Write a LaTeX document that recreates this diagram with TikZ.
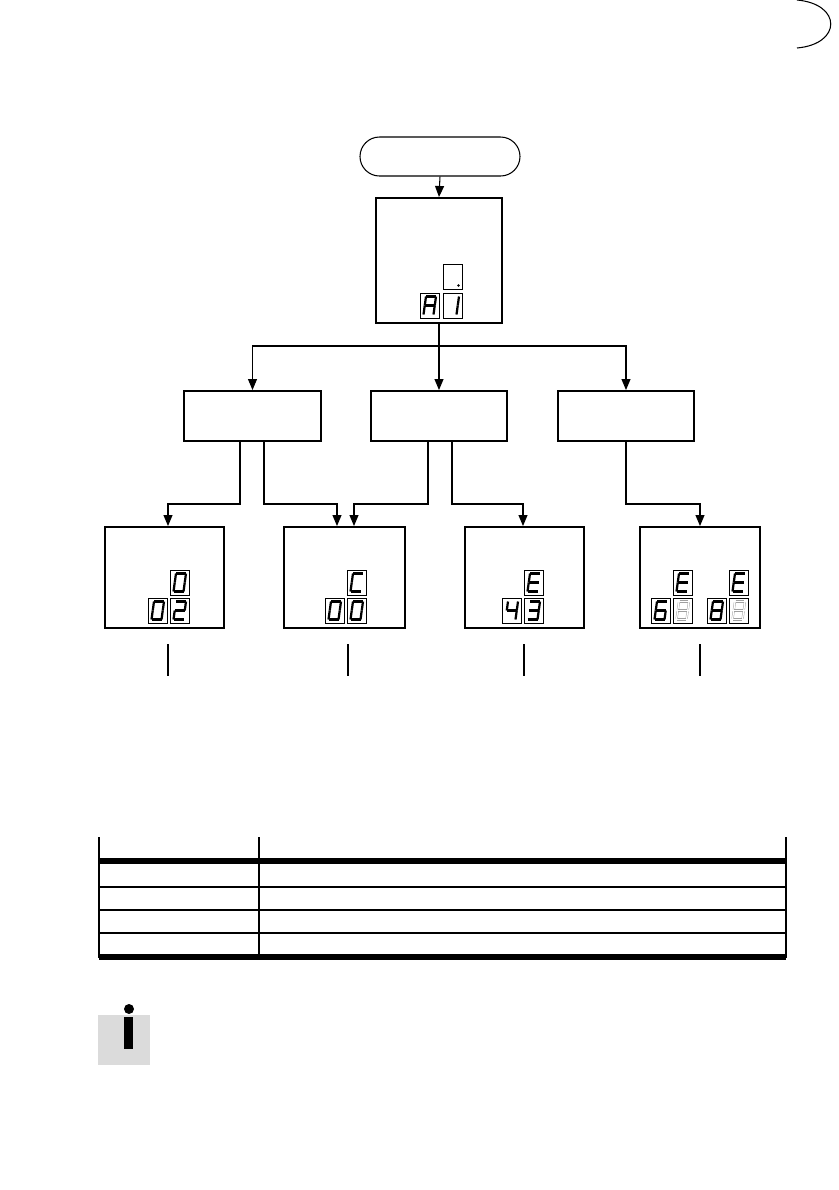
\documentclass[tikz,border=0pt]{standalone}
\usetikzlibrary{arrows.meta,shapes.misc,calc}
\def\u{0.03cm}
\tikzset{
  box/.style={draw, line width=1.7pt, rectangle, inner sep=0pt},
  pill/.style={draw, line width=0.9pt, rounded rectangle, inner sep=0pt},
  conn/.style={line width=0.9pt},
  arr/.style={conn, -{Triangle[length=0.33cm,width=0.27cm]}},
  cell/.style={draw, line width=0.8pt},
  litseg/.style={line width=1.9pt, line cap=butt},
  dimseg/.style={draw=gray!75, line width=0.35pt, double=white, double distance=1.1pt, shorten >=0.6pt, shorten <=0.6pt},
  rule/.style={line width=0.9pt},
  thickrule/.style={line width=0.17cm},
}
% segment lists
\def\dzero{TL/TR,TR/MR,MR/BR,BL/BR,ML/BL,TL/ML}
\def\done{TR/MR,MR/BR}
\def\dtwo{TL/TR,TR/MR,ML/MR,ML/BL,BL/BR}
\def\dthree{TL/TR,TR/MR,ML/MR,MR/BR,BL/BR}
\def\dfour{TL/ML,ML/MR,TR/MR,MR/BR}
\def\dsix{TL/TR,TL/ML,ML/MR,ML/BL,BL/BR,MR/BR}
\def\deight{TL/TR,TR/MR,MR/BR,BL/BR,ML/BL,TL/ML,ML/MR}
\def\dA{TL/TR,TR/MR,MR/BR,ML/BL,TL/ML,ML/MR}
\def\dC{TL/TR,TL/ML,ML/BL,BL/BR}
\def\dE{TL/TR,TL/ML,ML/MR,ML/BL,BL/BR}
\def\dnone{}
% \segcell{x}{y}{segment list}{style}
\newcommand{\segcell}[4]{%
  \begin{scope}[shift={(#1,#2)}]
    \draw[cell] (0,0) rectangle (19,25);
    \coordinate (TL) at (6,3.5);
    \coordinate (TR) at (16,3.5);
    \coordinate (ML) at (4.75,12.5);
    \coordinate (MR) at (14.75,12.5);
    \coordinate (BL) at (3.5,21.5);
    \coordinate (BR) at (13.5,21.5);
    \foreach \p/\q in #3 {\draw[#4] (\p) -- (\q);}
  \end{scope}}
\begin{document}
\begin{tikzpicture}[x=0.03cm, y=-0.03cm]
\useasboundingbox (0,0) rectangle (839,1190);
\fill[white] (0,0) rectangle (839,1190);

% punch-hole arc at top right
\draw[conn] (797,0) .. controls (842,4) and (842,44) .. (797,48);

% start pill
\node[pill, minimum width=160*\u, minimum height=39*\u] (start) at (440,156.5) {};
% main box
\node[box, minimum width=126*\u, minimum height=125*\u] (main) at (439,260.5) {};
% middle boxes
\node[box, minimum width=137*\u, minimum height=50*\u] (m1) at (252.5,416) {};
\node[box, minimum width=136*\u, minimum height=50*\u] (m2) at (439,416) {};
\node[box, minimum width=136*\u, minimum height=50*\u] (m3) at (626,416) {};
% bottom boxes
\node[box, minimum width=119*\u, minimum height=101*\u] (b1) at (164.5,577.5) {};
\node[box, minimum width=121*\u, minimum height=101*\u] (b2) at (344.5,577.5) {};
\node[box, minimum width=119*\u, minimum height=101*\u] (b3) at (524.5,577.5) {};
\node[box, minimum width=120*\u, minimum height=101*\u] (b4) at (700,577.5) {};

% connectors
\draw[arr] (start.south) -- (main.north);
\coordinate (bus) at (main.south |- 0,346);
\draw[conn] (main.south) -- (bus);
\draw[arr] (bus) -| (m1.north);
\draw[arr] (bus) -- (m2.north);
\draw[arr] (bus) -| (m3.north);

\draw[arr] ($(m1.south)+(-12.5,0)$) -- ++(0,62) -| ($(b1.north)+(3.5,0)$);
\draw[arr] ($(m1.south)+(11.5,0)$) -- ++(0,62) -| ($(b2.north)+(-7.5,0)$);
\draw[arr] ($(m2.south)+(-11,0)$) -- ++(0,62) -| ($(b2.north)+(9.5,0)$);
\draw[arr] ($(m2.south)+(13,0)$) -- ++(0,62) -| ($(b3.north)+(-1.5,0)$);
\draw[arr] (m3.south) -- ++(0,62) -| (b4.north);

% lines below bottom boxes
\draw[conn] ($(b1.south)+(3.5,15)$) -- ++(0,32);
\draw[conn] ($(b2.south)+(3.5,15)$) -- ++(0,32);
\draw[conn] ($(b3.south)+(-0.5,15)$) -- ++(0,32);
\draw[conn] ($(b4.south)+(0,15)$) -- ++(0,32);

% displays: main box
\segcell{443}{264}{\dnone}{litseg}
\fill (458.5,285.5) circle (1.3);
\segcell{420}{293}{\dA}{litseg}
\segcell{443}{293}{\done}{litseg}

% box 1
\segcell{170}{570}{\dzero}{litseg}
\segcell{148}{598}{\dzero}{litseg}
\segcell{170}{598}{\dtwo}{litseg}
% box 2
\segcell{347}{570}{\dC}{litseg}
\segcell{325}{598}{\dzero}{litseg}
\segcell{347}{598}{\dzero}{litseg}
% box 3
\segcell{524}{570}{\dE}{litseg}
\segcell{502}{598}{\dfour}{litseg}
\segcell{524}{598}{\dthree}{litseg}
% box 4
\segcell{673}{570}{\dE}{litseg}
\segcell{651}{598}{\dsix}{litseg}
\segcell{673}{598}{\deight}{dimseg}
\segcell{729}{570}{\dE}{litseg}
\segcell{707}{598}{\deight}{litseg}
\segcell{729}{598}{\deight}{dimseg}

% table
\draw[rule] (99,837) -- (99,958);
\draw[rule] (259,837) -- (259,958);
\draw[rule] (786,837) -- (786,958);
\draw[thickrule] (99,861) -- (786,861);
\draw[rule] (99,887) -- (786,887);
\draw[rule] (99,910) -- (786,910);
\draw[rule] (99,933) -- (786,933);
\draw[thickrule] (99,957) -- (786,957);

% info icon
\fill[gray!28] (98,1015) rectangle (150,1065);
\fill (124,1017) rectangle (133,1049);
\fill (129,1009) circle (5);
\end{tikzpicture}
\end{document}
